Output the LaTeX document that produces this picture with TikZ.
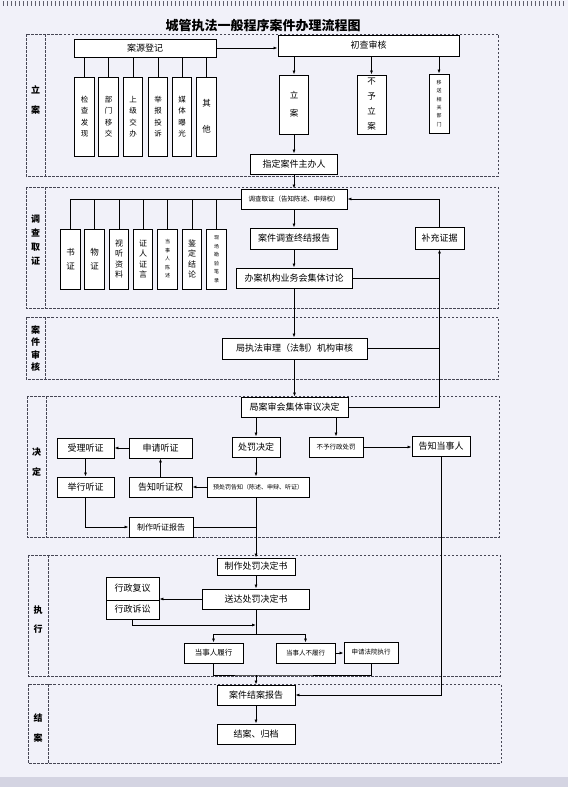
\documentclass[tikz,border=0pt]{standalone}
\usepackage{fontspec}
\setmainfont{Noto Sans CJK SC}
\usetikzlibrary{arrows.meta}
\definecolor{paperbg}{RGB}{241,241,249}
\definecolor{stripgray}{RGB}{212,212,226}
\definecolor{dashgray}{RGB}{70,70,84}
\definecolor{holegray}{RGB}{96,96,108}

\tikzset{
  box/.style={draw=black,line width=0.9pt,fill=white,inner sep=0pt,font=\fontsize{9}{10}\selectfont},
  smallbox/.style={box,font=\fontsize{6.5}{7}\selectfont},
  vbox/.style={box,align=center,minimum width=19.5pt},
  vtwo/.style={vbox,font=\fontsize{8.5}{26}\selectfont},
  vtwoa/.style={vbox,font=\fontsize{8.5}{14}\selectfont},
  vmid/.style={vbox,font=\fontsize{7.5}{11.5}\selectfont},
  vfour/.style={vbox,font=\fontsize{8}{10.5}\selectfont},
  vtiny/.style={vbox,font=\fontsize{5}{8.5}\selectfont},
  stage/.style={draw=dashgray,line width=0.7pt,dash pattern=on 2.5pt off 1.5pt},
  stagelabel/.style={align=center,font=\bfseries\fontsize{9}{#1}\selectfont},
  arr/.style={-{Latex[length=4pt,width=3pt]},line width=0.8pt},
  conn/.style={line width=0.8pt},
}

\begin{document}
\begin{tikzpicture}[x=1pt,y=-1pt]
  \fill[paperbg] (0,0) rectangle (568,787);
  \useasboundingbox (0,0) rectangle (568,787);
  \fill[stripgray] (0,777) rectangle (568,787);
  \foreach \x in {3,7,...,565} \draw[holegray,line width=0.8pt] (\x,1) -- (\x,6);

  % stages
  \foreach \ya/\yb/\xa/\xd/\xb in {34/176/26/45/498,187/308/26/45/498,317/379/26/45/498,396/537/27/46/499,555/676/28/48/500,684/763/28/48/501}{
    \draw[stage] (\xa,\ya) rectangle (\xb,\yb);
    \draw[stage] (\xd,\ya) -- (\xd,\yb);
  }
  \node[stagelabel=20] (lab1) at (35.5,100) {立\\案};
  \node[stagelabel=14] (lab2) at (35.5,240.5) {调\\查\\取\\证};
  \node[stagelabel=12.5] (lab3) at (35.5,348.5) {案\\件\\审\\核};
  \node[stagelabel=20] (lab4) at (36.5,462) {决\\定};
  \node[stagelabel=19] (lab5) at (38,619.5) {执\\行};
  \node[stagelabel=20] (lab6) at (38,728) {结\\案};

  \node[font=\bfseries\fontsize{13}{15}\selectfont] (title) at (263,26) {城管执法一般程序案件办理流程图};

  % li an
  \node[box,minimum width=142pt,minimum height=18pt] (yuan) at (145,48) {案源登记};
  \node[box,minimum width=181pt,minimum height=21pt] (chucha) at (368.5,45.5) {初查审核};
  \draw[arr] (yuan.east) -- (yuan.east -| chucha.west);
  \foreach \i/\cx/\st/\txt in {1/84.5/vmid/{检\\查\\发\\现},2/108.5/vmid/{部\\门\\移\\交},3/133/vmid/{上\\级\\交\\办},4/158/vmid/{举\\报\\投\\诉},5/182/vmid/{媒\\体\\曝\\光},6/206.5/vtwo/{其\\他}}{
    \node[\st,minimum height=79pt] (src\i) at (\cx,116.5) {\txt};
    \draw[conn] (src\i.north) -- (src\i.north |- yuan.south);
  }
  \node[vbox,font=\fontsize{8.5}{18}\selectfont,minimum width=29pt,minimum height=59pt] (lian) at (294,104.5) {立\\案};
  \node[vbox,font=\fontsize{8.5}{15}\selectfont,minimum width=29pt,minimum height=59pt] (buyu) at (371.5,104.5) {不\\予\\立\\案};
  \node[vbox,font=\fontsize{5}{8.3}\selectfont,minimum width=20pt,minimum height=59pt] (yisong) at (439,103.5) {移\\送\\相\\关\\部\\门};
  \draw[arr] (chucha.south -| lian) -- (lian.north);
  \draw[arr] (chucha.south -| buyu) -- (buyu.north);
  \draw[arr] (chucha.south -| yisong) -- (yisong.north);
  \node[box,minimum width=87pt,minimum height=20pt] (zhuban) at (294,164) {指定案件主办人};
  \draw[arr] (lian.south) -- (zhuban.north);

  % diao cha qu zheng
  \node[smallbox,minimum width=106pt,minimum height=20pt] (diaocha) at (294,199) {调查取证（告知陈述、申辩权）};
  \draw[arr] (zhuban.south) -- (diaocha.north);
  \foreach \i/\cx/\st/\txt in {1/70.5/vtwoa/{书\\证},2/94.5/vtwoa/{物\\证},3/119/vfour/{视\\听\\资\\料},4/143/vfour/{证\\人\\证\\言},5/167.5/vtiny/{当\\事\\人\\陈\\述},6/192/vfour/{鉴\\定\\结\\论},7/216.5/vtiny/{现\\场\\勘\\验\\笔\\录}}{
    \node[\st,minimum height=60pt] (ev\i) at (\cx,259) {\txt};
    \draw[conn] (ev\i.north) -- (ev\i.north |- diaocha.west);
  }
  \draw[conn] (diaocha.west) -- (diaocha.west -| ev1.north);
  \node[box,minimum width=87pt,minimum height=21pt] (zhongjie) at (294,238.5) {案件调查终结报告};
  \node[box,minimum width=116pt,minimum height=20pt] (taolun) at (294,278) {办案机构业务会集体讨论};
  \node[box,minimum width=49pt,minimum height=22pt] (buchong) at (439.5,238) {补充证据};
  \draw[arr] (diaocha.south) -- (zhongjie.north);
  \draw[arr] (zhongjie.south) -- (taolun.north);
  \draw[conn] (taolun.east) -- (taolun.east -| buchong.south);
  \draw[arr] (buchong.north) |- (diaocha.east);

  % shen he
  \node[box,minimum width=145pt,minimum height=21pt] (shenhe) at (294.5,348.5) {局执法审理（法制）机构审核};
  \draw[arr] (taolun.south) -- (taolun.south |- shenhe.north);
  \draw[conn] (shenhe.east) -- (shenhe.east -| buchong.south);

  % jue ding
  \node[box,minimum width=107pt,minimum height=20pt] (anshen) at (294.5,407) {局案审会集体审议决定};
  \draw[arr] (shenhe.south) -- (anshen.north);
  \draw[arr] (anshen.east) -| (buchong.south);
  \node[box,minimum width=48pt,minimum height=20pt] (chufa) at (256,447) {处罚决定};
  \node[smallbox,minimum width=54pt,minimum height=20pt] (buyuxz) at (336,447) {不予行政处罚};
  \node[box,minimum width=58pt,minimum height=20pt] (gaozhi) at (441,446) {告知当事人};
  \draw[arr] (anshen.south -| chufa) -- (chufa.north);
  \draw[arr] (anshen.south -| buyuxz) -- (buyuxz.north);
  \draw[arr] (buyuxz.east) -- (buyuxz.east -| gaozhi.west);
  \node[box,minimum width=57pt,minimum height=20pt] (shouli) at (85.5,448) {受理听证};
  \node[box,minimum width=63pt,minimum height=20pt] (shenqing) at (160.5,448) {申请听证};
  \node[box,minimum width=57pt,minimum height=20pt] (juxing) at (85.5,487) {举行听证};
  \node[box,minimum width=63pt,minimum height=20pt] (tzq) at (160.5,487) {告知听证权};
  \node[smallbox,font=\fontsize{6}{7}\selectfont,minimum width=102pt,minimum height=20pt] (yuchufa) at (258,487) {预处罚告知（陈述、申辩、听证）};
  \node[box,font=\fontsize{8}{9}\selectfont,minimum width=64pt,minimum height=20pt] (baogao) at (161,527) {制作听证报告};
  \draw[arr] (shenqing.west) -- (shouli.east);
  \draw[arr] (shouli.south) -- (juxing.north);
  \draw[arr] (tzq.north) -- (shenqing.south);
  \draw[arr] (chufa.south) -- (chufa.south |- yuchufa.north);
  \draw[arr] (yuchufa.west) -- (tzq.east);
  \draw[arr] (juxing.south) |- (baogao.west);
  \draw[conn] (baogao.east) -- (baogao.east -| chufa);

  % zhi xing
  \node[box,minimum width=78pt,minimum height=17pt] (zhizuo) at (256,566.5) {制作处罚决定书};
  \node[box,minimum width=107pt,minimum height=20pt] (songda) at (256,599) {送达处罚决定书};
  \draw[arr] (yuchufa.south -| chufa) -- (zhizuo.north);
  \draw[arr] (zhizuo.south) -- (songda.north);
  \node[box,minimum width=53pt,minimum height=23pt] (fuyi) at (132.5,588.5) {行政复议};
  \node[box,minimum width=53pt,minimum height=19pt] (susong) at (132.5,609.5) {行政诉讼};
  \draw[arr] (songda.west) -- (songda.west -| fuyi.east);
  \coordinate (huiru) at (256,625);
  \coordinate (fencha) at (256,634);
  \draw[arr] (susong.south) |- (huiru);
  \draw[conn] (songda.south) -- (fencha);
  \node[box,font=\fontsize{7.5}{9}\selectfont,minimum width=59pt,minimum height=20pt] (lvxing) at (213.5,653) {当事人履行};
  \node[smallbox,minimum width=59pt,minimum height=20pt] (bulvxing) at (305.5,653) {当事人不履行};
  \node[smallbox,minimum width=54pt,minimum height=21pt] (fayuan) at (371,652.5) {申请法院执行};
  \draw[arr] (fencha) -| (lvxing.north);
  \draw[arr] (fencha) -| (bulvxing.north);
  \draw[arr] (bulvxing.east) -- (bulvxing.east -| fayuan.west);
  \coordinate (huizong) at (256,675);
  \draw[conn] (lvxing.south) |- (huizong) -| (fayuan.south);

  % jie an
  \node[box,minimum width=78pt,minimum height=20pt] (jiean) at (256,695) {案件结案报告};
  \node[box,minimum width=78pt,minimum height=20pt] (guidang) at (256,734) {结案、归档};
  \draw[arr] (huizong) -- (jiean.north);
  \draw[arr] (gaozhi.south) |- (jiean.east);
  \draw[arr] (jiean.south) -- (guidang.north);
\end{tikzpicture}
\end{document}
